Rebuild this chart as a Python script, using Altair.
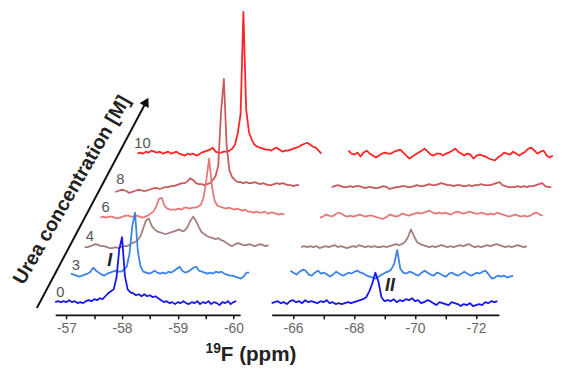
import altair as alt
import pandas as pd

# ---------------- data ----------------
traces = ["0", "3", "4", "6", "8", "10"]            # urea concentration [M]
trace_colors = ["#1616f2", "#3b83e4", "#a67d7d", "#e67878", "#c75a5e", "#ff2323"]
stack_offset = [12, 40, 69, 99, 127, 164]            # vertical stacking (intensity units)
stack_shift_px = [0, 16, 30, 46, 61, 78]             # pseudo-3D horizontal shift

left_step = 0.05
right_step = 0.1
left_start = [-56.80, -56.80, -56.80, -56.80, -56.80, -56.90]
right_start = [-65.3, -65.4, -65.3, -65.4, -65.3, -65.3]

left_vals = [
    [1,2,1,2,1,3,1,2,0,1, 0,2,3,2,4,3,5,4,7,10, 12,14,26,55,67,28,14,11,10,8,
     9,7,9,7,8,6,7,5,3,1, 2,0,1,-1,1,0,2,0,-1,1, 0,2,-1,1,0,2,-1,1,0,-2, 1,0,2,-1,1,2],
    [2,1,0,-1,0,1,2,4,8,5, 3,1,0,2,3,4,5,4,4,6, 9,22,50,64,25,9,4,3,2,3,
     5,3,2,3,2,4,3,5,7,9, 5,3,4,6,8,9,5,4,3,2, 3,2,4,3,4,2,1,0,0,-1, -2,-3,-1,3,3],
    [0,0,1,2,3,2,1,1,0,-1, -1,0,-1,0,1,1,2,4,5,7, 11,19,27,29,22,18,16,15,14,13,
     14,15,16,17,18,16,17,21,27,31, 26,20,15,13,11,10,9,8,9,7, 6,4,2,1,3,4,3,2,2,3, 2,1,2,3,2,1,2],
    [0,1,0,1,1,0,-1,0,1,2, 2,1,1,2,1,0,1,2,4,6, 11,19,20,12,9,8,8,8,9,8,
     10,10,9,10,10,11,13,20,38,60, 32,17,12,11,10,9,10,9,8,9, 8,7,8,6,6,5,6,5,5,6, 4,5,5,4,3,4,3],
    [-2,-1,0,0,-1,-3,-2,-1,0,0, -1,-1,0,1,2,2,1,2,3,3, 4,4,5,6,7,7,9,12,10,7,
     6,6,5,6,7,10,14,25,80,113, 45,20,13,10,8,8,7,8,7,7, 8,7,6,7,6,5,5,6,7,6, 7,6,5,5,4,5,5],
    [0,1,0,2,1,3,2,1,2,0, 1,2,0,1,2,0,-1,-2,0,-1, 0,-2,-1,1,2,3,4,6,2,1,
     1,2,2,3,5,9,21,40,144,45, 22,14,9,7,6,5,4,4,3,5, 6,4,2,3,3,4,5,6,7,9, 10,11,9,7,6,3,0],
]

right_vals = [
    [0,1,2,0,1,-1,2,3,1,2, 0,3,1,2,1,0,2,1,3,0, 1,-1,0,-1,0,1,0,1,2,3,
     4,6,12,20,31,22,6,2,3,2, 4,1,3,2,4,3,5,2,3,0, 1,3,2,0,-2,1,0,-1,-2,1,
     0,-1,-3,-1,-2,0,-3,-2,-1,-2, 1,0,2,1,2],
    [5,3,1,4,6,5,1,0,3,5, 2,3,1,-1,1,4,2,0,1,3, 2,4,5,3,2,0,-1,-2,-3,-1,
     1,3,4,6,12,26,7,3,2,4, 3,1,0,3,5,3,1,0,3,2, 0,-1,2,3,1,0,2,4,2,0,
     1,3,2,4,5,1,-3,-2,0,-1, 0,-2,-1,0],
    [0,1,0,1,0,1,-1,0,1,0, 1,2,0,1,0,-1,0,1,0,2, 1,0,1,0,1,0,0,1,0,1,
     2,3,2,3,5,10,18,11,5,3, 2,1,0,1,0,1,2,1,0,1, 0,1,2,1,2,3,1,0,1,0,
     1,2,1,2,3,2,1,0,1,0, 1,2,1,0,1],
    [0,1,3,2,1,3,5,4,2,1, 2,1,2,3,2,1,2,2,1,0, -1,-1,1,3,2,1,2,4,3,2,
     3,4,5,4,5,6,7,5,4,5, 4,5,4,3,5,6,5,4,5,6, 5,4,4,5,4,3,4,3,5,4,
     3,2,1,2,3,2,1,2,1,2, 4,5,3,2],
    [3,4,5,4,3,3,4,3,4,4, 3,2,3,3,2,2,3,4,3,1, 2,3,3,4,4,3,3,4,5,4,
     4,5,6,5,5,6,7,6,5,5, 4,5,5,4,4,5,4,5,5,6, 5,5,5,6,7,8,5,4,3,3,
     3,4,3,4,3,4,4,5,6,7, 4,3,3],
    [3,0,-1,1,-3,1,3,0,-2,-4, -2,0,1,0,0,2,3,4,1,-2, -5,-3,-1,1,3,5,2,-1,-2,0,
     0,-2,0,1,3,5,2,0,-2,0, -1,-5,-2,-1,-2,-3,-5,-6,-7,-4, -2,1,0,-1,2,0,-2,0,2,5,
     6,3,0,2,3,-2,-4,-2],
]

left_ticks = [-57, -57.5, -58, -58.5, -59, -59.5, -60]
right_ticks = [-66, -67, -68, -69, -70, -71, -72]
peak_labels = [("I", -57.777, 55), ("II", -69.18, 29)]

# ---------------- layout ----------------
LEFT_DOMAIN = [-60.12, -56.8]
RIGHT_DOMAIN = [-72.75, -65.3]
LEFT_W, RIGHT_W, H = 188, 231, 309
L_PPM_PX = (LEFT_DOMAIN[1] - LEFT_DOMAIN[0]) / LEFT_W
R_PPM_PX = (RIGHT_DOMAIN[1] - RIGHT_DOMAIN[0]) / RIGHT_W
FONT = "Liberation Sans"


def build(vals, starts, step, ppm_px):
    rows = []
    for k in reversed(range(len(traces))):
        for i, v in enumerate(vals[k]):
            ppm = starts[k] - step * i - stack_shift_px[k] * ppm_px
            rows.append({"trace": traces[k], "x": ppm, "y": v + stack_offset[k]})
    return pd.DataFrame(rows)


left_df = build(left_vals, left_start, left_step, L_PPM_PX)
right_df = build(right_vals, right_start, right_step, R_PPM_PX)

lscale = alt.Scale(domain=LEFT_DOMAIN, reverse=True, nice=False, zero=False)
rscale = alt.Scale(domain=RIGHT_DOMAIN, reverse=True, nice=False, zero=False)
yscale = alt.Scale(domain=[0, H], nice=False, zero=False)


def make_axis(values, every):
    return alt.Axis(values=values,
                    labelExpr=f"datum.value % {every} == 0 ? '-' + abs(datum.value) : ''",
                    title=None, grid=False, domainColor="#111", domainWidth=1.7,
                    tickColor="#111", tickWidth=1.5, tickSize=4, labelFontSize=14,
                    labelColor="#666", labelFont=FONT, labelPadding=3,
                    labelFlush=False, labelOverlap=False)


lx = alt.X("x:Q", scale=lscale, axis=make_axis(left_ticks, 1))
rx = alt.X("x:Q", scale=rscale, axis=make_axis(right_ticks, 2))
yy = alt.Y("y:Q", scale=yscale, axis=None)
color = alt.Color("trace:N", scale=alt.Scale(domain=traces, range=trace_colors), legend=None)

line_style = dict(strokeWidth=1.8, strokeJoin="round")
lines_left = alt.Chart(left_df).mark_line(**line_style).encode(x=lx, y=yy, color=color, detail="trace:N")
lines_right = alt.Chart(right_df).mark_line(**line_style).encode(x=rx, y=yy, color=color, detail="trace:N")

num_df = pd.DataFrame({
    "x": [left_start[k] - 0.09 - stack_shift_px[k] * L_PPM_PX for k in range(len(traces))],
    "y": [o + 11 for o in stack_offset],
    "t": traces,
})
num_text = alt.Chart(num_df).mark_text(font=FONT, fontSize=15, color="#555",
                                       align="center", baseline="middle").encode(x=lx, y=yy, text="t:N")

pk_I = alt.Chart(pd.DataFrame([{"x": peak_labels[0][1], "y": peak_labels[0][2], "t": peak_labels[0][0]}])).mark_text(
    font=FONT, fontSize=18, fontWeight="bold", fontStyle="italic", color="#222",
    align="center", baseline="middle").encode(x=lx, y=yy, text="t:N")
pk_II = alt.Chart(pd.DataFrame([{"x": peak_labels[1][1], "y": peak_labels[1][2], "t": peak_labels[1][0]}])).mark_text(
    font=FONT, fontSize=18, fontWeight="bold", fontStyle="italic", color="#222",
    align="center", baseline="middle").encode(x=rx, y=yy, text="t:N")

# stacking-direction arrow with its title
arrow_df = pd.DataFrame([{"x": -56.47, "y": 7, "x2": -58.434, "y2": 216.7}])
arrow_line = alt.Chart(arrow_df).mark_rule(color="#111", strokeWidth=2).encode(
    x=lx, y=yy, x2="x2:Q", y2="y2:Q")
head_df = pd.DataFrame([{"x": -58.434, "y": 216.7}])
arrow_head = alt.Chart(head_df).mark_point(shape="triangle-up", filled=True, size=110, angle=28,
                                           color="#111", opacity=1).encode(x=lx, y=yy)
ytitle_df = pd.DataFrame([{"x": -57.10, "y": 127, "t": "Urea concentration [M]"}])
ytitle = alt.Chart(ytitle_df).mark_text(font=FONT, fontSize=20, fontWeight="bold", color="#222",
                                        angle=300, align="center", baseline="middle").encode(
    x=lx, y=yy, text="t:N")

xt_df = pd.DataFrame([{"x": -59.772, "y": -41, "t": "F (ppm)"}])
xtitle = alt.Chart(xt_df).mark_text(font=FONT, fontSize=21, fontWeight="bold", color="#222",
                                    align="left", baseline="middle").encode(x=lx, y=yy, text="t:N")
xs_df = pd.DataFrame([{"x": -59.772, "y": -35, "t": "19"}])
xsup = alt.Chart(xs_df).mark_text(font=FONT, fontSize=14, fontWeight="bold", color="#222",
                                  align="right", baseline="middle").encode(x=lx, y=yy, text="t:N")

left = alt.layer(lines_left, num_text, pk_I, arrow_line, arrow_head, ytitle, xtitle, xsup).properties(
    width=LEFT_W, height=H)
right = alt.layer(lines_right, pk_II).properties(width=RIGHT_W, height=H)

chart = alt.hconcat(left, right, spacing=32, bounds="flush").resolve_scale(
    x="independent", y="independent", color="independent"
).properties(
    padding={"left": 1, "top": 0, "right": 0, "bottom": 4},
    background="white",
).configure_view(stroke=None)

chart.save("out.html", embed_options={"renderer": "svg", "actions": False})
